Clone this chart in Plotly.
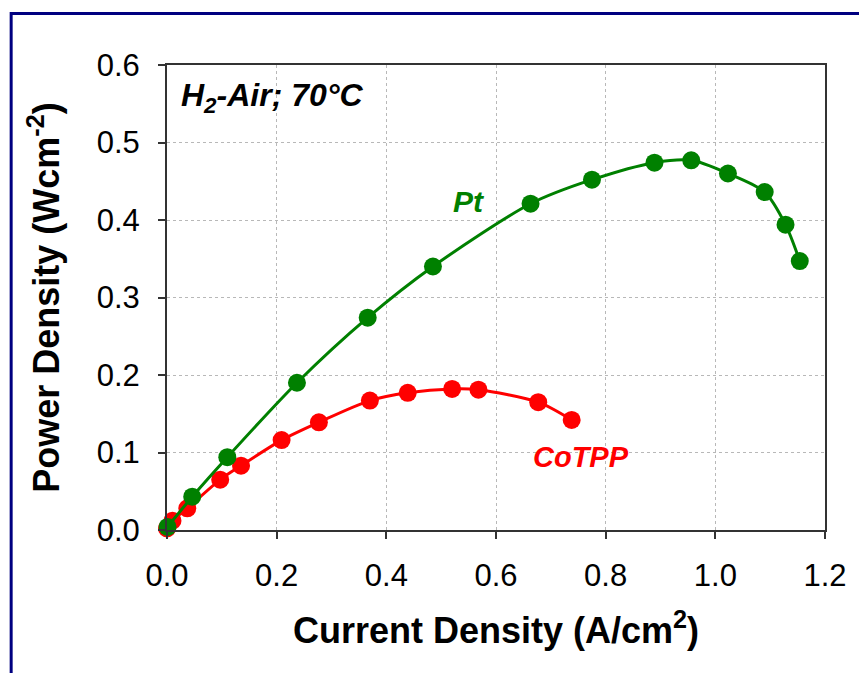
import plotly.graph_objects as go

pt_x = [0.001, 0.046, 0.110, 0.237, 0.366, 0.485, 0.663, 0.775, 0.889, 0.956, 1.023, 1.090, 1.128, 1.154]
pt_y = [0.004, 0.043, 0.094, 0.190, 0.274, 0.340, 0.421, 0.452, 0.474, 0.477, 0.460, 0.436, 0.394, 0.347]

co_x = [0.000, 0.010, 0.037, 0.097, 0.135, 0.209, 0.277, 0.370, 0.439, 0.520, 0.568, 0.677, 0.738]
co_y = [0.002, 0.012, 0.028, 0.065, 0.083, 0.116, 0.139, 0.167, 0.177, 0.182, 0.181, 0.165, 0.142]

x_ticks = [0.0, 0.2, 0.4, 0.6, 0.8, 1.0, 1.2]
x_ticklabels = ["0.0", "0.2", "0.4", "0.6", "0.8", "1.0", "1.2"]
y_ticks = [0.0, 0.1, 0.2, 0.3, 0.4, 0.5, 0.6]
y_ticklabels = ["0.0", "0.1", "0.2", "0.3", "0.4", "0.5", "0.6"]

FONT = "Arial, 'Liberation Sans', sans-serif"
GREEN = "#008000"
RED = "#FF0000"

fig = go.Figure()
fig.add_trace(go.Scatter(x=co_x, y=co_y, mode="lines+markers", name="CoTPP",
                         cliponaxis=False,
                         line=dict(color=RED, width=3, shape="spline", smoothing=0.8),
                         marker=dict(color=RED, size=18)))
fig.add_trace(go.Scatter(x=pt_x, y=pt_y, mode="lines+markers", name="Pt",
                         cliponaxis=False,
                         line=dict(color=GREEN, width=3, shape="spline", smoothing=0.8),
                         marker=dict(color=GREEN, size=18)))

axis_common = dict(showline=True, linecolor="#333333", linewidth=2, mirror=True,
                   ticks="outside", ticklen=7, tickwidth=1.5, tickcolor="#333333",
                   showgrid=True, gridcolor="#b8b8b8", griddash="dot", gridwidth=1,
                   zeroline=False, tickfont=dict(family=FONT, size=31, color="black"))

fig.update_xaxes(range=[0, 1.2], tickvals=x_ticks, ticktext=x_ticklabels,
                 ticklabelstandoff=10,
                 title=dict(text="<b>Current Density (A/cm<sup>2</sup>)</b>",
                            font=dict(family=FONT, size=36, color="black"), standoff=26),
                 **axis_common)
fig.update_yaxes(range=[0, 0.6], tickvals=y_ticks, ticktext=y_ticklabels,
                 ticklabelstandoff=12,
                 title=dict(text="<b>Power Density (Wcm<sup>-2</sup>)</b>",
                            font=dict(family=FONT, size=36, color="black"), standoff=26),
                 **axis_common)

fig.add_annotation(x=0.55, y=0.424, xref="x", yref="y", showarrow=False,
                   text="<b><i>Pt</i></b>", font=dict(family=FONT, size=30, color=GREEN))
fig.add_annotation(x=0.755, y=0.094, xref="x", yref="y", showarrow=False,
                   text="<b><i>CoTPP</i></b>", font=dict(family=FONT, size=29, color=RED))
fig.add_annotation(x=0.022, y=0.558, xref="x", yref="y", showarrow=False, xanchor="left",
                   text="<b><i>H<sub>2</sub>-Air; 70°C</i></b>",
                   font=dict(family=FONT, size=32, color="black"))

# outer navy frame (top and left edges)
W, H = 859, 673
l, r, t, b = 167, 27, 65, 143
pw, ph = W - l - r, H - t - b
def px(xp):
    return (xp - l) / pw
def py(yp):
    return (H - b - yp) / ph
fig.add_shape(type="line", xref="paper", yref="paper",
              x0=px(9.5), x1=px(870), y0=py(13.5), y1=py(13.5),
              line=dict(color="#000080", width=3))
fig.add_shape(type="line", xref="paper", yref="paper",
              x0=px(9.5), x1=px(9.5), y0=py(12), y1=py(690),
              line=dict(color="#000080", width=3))

fig.update_layout(width=W, height=H, margin=dict(l=l, r=r, t=t, b=b),
                  paper_bgcolor="white", plot_bgcolor="white", showlegend=False,
                  font=dict(family=FONT))

fig.write_html("out.html")
